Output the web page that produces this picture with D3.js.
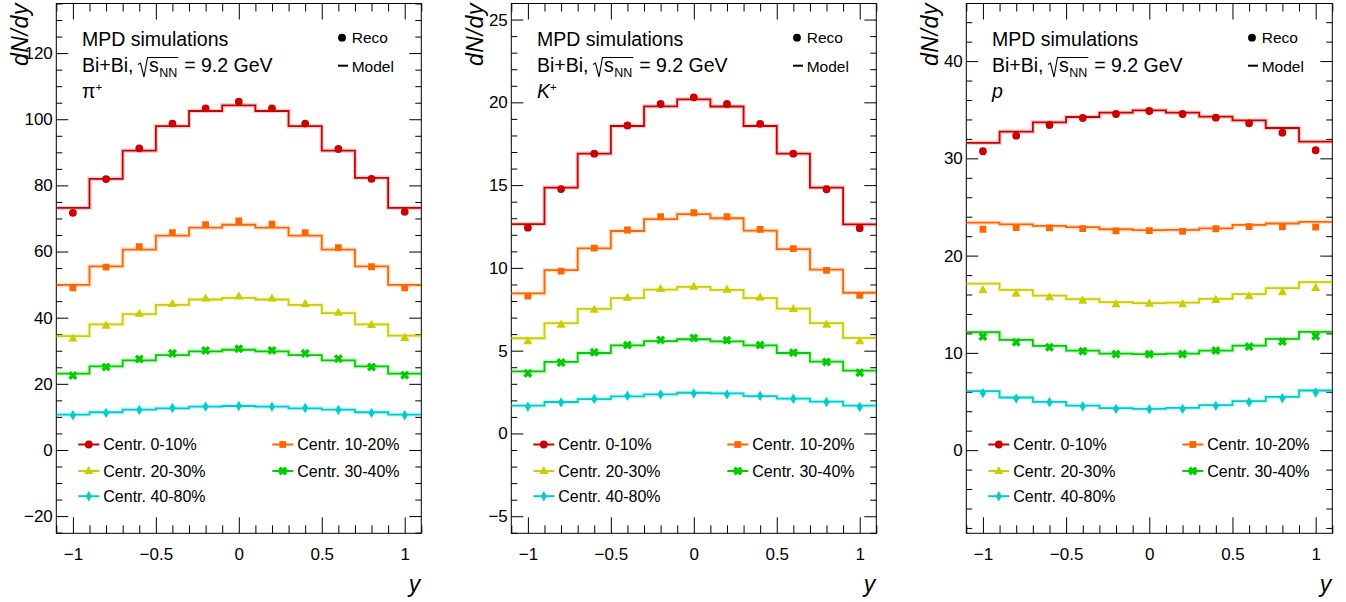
<!DOCTYPE html>
<html>
<head>
<meta charset="utf-8">
<script src="https://cdn.jsdelivr.net/npm/d3@7"></script>
<style>
  html, body { margin: 0; padding: 0; background: #fff; }
  svg { display: block; font-family: "Liberation Sans", Arial, Helvetica, sans-serif; }
</style>
</head>
<body>
<script>
// ---------------- DATA ----------------
const yCenters = [-1, -0.8, -0.6, -0.4, -0.2, 0, 0.2, 0.4, 0.6, 0.8, 1];
const binWidth = 0.2;
const centralityLabels = ["Centr. 0-10%", "Centr. 10-20%", "Centr. 20-30%", "Centr. 30-40%", "Centr. 40-80%"];
const seriesColors = ["#cc0000", "#ff6600", "#cccc00", "#00cc00", "#00cccc"];
const seriesMarkers = ["circle", "square", "triangle", "xcross", "diamond"];

// pi+
const piReco = [
  [71.7, 81.9, 91.2, 98.7, 103.3, 105.3, 103.3, 98.7, 91.0, 82.0, 72.0],
  [49.0, 55.3, 61.5, 65.7, 68.1, 69.3, 68.3, 65.7, 61.2, 55.4, 49.0],
  [33.7, 37.6, 41.2, 44.2, 45.8, 46.4, 45.8, 44.2, 41.5, 37.8, 33.9],
  [22.5, 25.1, 27.5, 29.2, 30.1, 30.6, 30.1, 29.2, 27.6, 25.1, 22.6],
  [10.5, 11.2, 12.1, 12.7, 13.1, 13.3, 13.1, 12.7, 12.1, 11.2, 10.5]
];
const piModel = [
  [73.2, 82.0, 90.5, 97.9, 102.5, 104.2, 102.5, 97.9, 90.5, 82.3, 73.2],
  [49.9, 55.5, 60.6, 64.8, 67.2, 68.1, 67.2, 64.8, 60.6, 55.5, 49.9],
  [34.4, 38.0, 41.1, 43.9, 45.5, 46.0, 45.5, 43.9, 41.4, 38.0, 34.6],
  [23.1, 25.3, 27.1, 28.7, 29.8, 30.3, 29.8, 28.7, 27.1, 25.3, 23.1],
  [10.7, 11.4, 12.2, 12.6, 13.1, 13.3, 13.1, 12.6, 12.2, 11.4, 10.7]
];
// K+
const kReco = [
  [12.43, 14.76, 16.9, 18.6, 19.9, 20.3, 19.9, 18.7, 16.9, 14.75, 12.4],
  [8.30, 9.81, 11.2, 12.29, 13.09, 13.33, 13.09, 12.33, 11.16, 9.85, 8.34],
  [5.57, 6.57, 7.48, 8.2, 8.73, 8.87, 8.69, 8.22, 7.52, 6.57, 5.57],
  [3.63, 4.28, 4.9, 5.34, 5.65, 5.77, 5.63, 5.34, 4.88, 4.32, 3.67],
  [1.62, 1.88, 2.08, 2.28, 2.36, 2.42, 2.36, 2.28, 2.1, 1.9, 1.6]
];
const kModel = [
  [12.65, 14.85, 16.9, 18.57, 19.76, 20.18, 19.75, 18.57, 16.9, 14.85, 12.63],
  [8.46, 9.87, 11.18, 12.23, 12.95, 13.25, 13.0, 12.25, 11.14, 9.9, 8.5],
  [5.75, 6.67, 7.52, 8.18, 8.69, 8.85, 8.67, 8.18, 7.54, 6.67, 5.77],
  [3.75, 4.32, 4.86, 5.32, 5.58, 5.69, 5.56, 5.32, 4.86, 4.34, 3.79],
  [1.68, 1.9, 2.08, 2.24, 2.36, 2.46, 2.42, 2.26, 2.1, 1.92, 1.68]
];
// p
const pReco = [
  [30.73, 32.33, 33.43, 34.15, 34.56, 34.87, 34.56, 34.18, 33.6, 32.64, 30.83],
  [22.71, 22.88, 22.85, 22.78, 22.54, 22.57, 22.5, 22.76, 22.98, 22.95, 22.92],
  [16.47, 16.1, 15.72, 15.38, 15.0, 15.07, 15.0, 15.45, 15.83, 16.24, 16.68],
  [11.68, 11.1, 10.58, 10.17, 9.87, 9.87, 9.87, 10.24, 10.65, 11.16, 11.72],
  [5.86, 5.3, 4.93, 4.52, 4.24, 4.21, 4.24, 4.55, 4.93, 5.34, 5.92]
];
const pModel = [
  [31.6, 32.74, 33.7, 34.25, 34.7, 34.94, 34.7, 34.28, 33.9, 33.12, 31.71],
  [23.39, 23.22, 23.05, 22.92, 22.71, 22.61, 22.64, 22.81, 23.15, 23.3, 23.46],
  [17.12, 16.47, 15.89, 15.52, 15.21, 15.11, 15.17, 15.55, 16.03, 16.65, 17.27],
  [12.13, 11.34, 10.72, 10.24, 9.93, 9.87, 9.93, 10.24, 10.75, 11.44, 12.16],
  [6.06, 5.41, 4.96, 4.58, 4.32, 4.24, 4.34, 4.62, 5.04, 5.48, 6.13]
];

// axes
const xDomain = [-1.1, 1.1];
const xMajorTicks = [-1, -0.5, 0, 0.5, 1];
const xTickLabels = ["\u22121", "\u22120.5", "0", "0.5", "1"];
const piYDomain = [-25.2, 135];
const piYTicks = [-20, 0, 20, 40, 60, 80, 100, 120];
const piYTickLabels = ["\u221220", "0", "20", "40", "60", "80", "100", "120"];
const kYDomain = [-6.03, 25.97];
const kYTicks = [-5, 0, 5, 10, 15, 20, 25];
const kYTickLabels = ["\u22125", "0", "5", "10", "15", "20", "25"];
const pYDomain = [-8.55, 45.92];
const pYTicks = [0, 10, 20, 30, 40];
const pYTickLabels = ["0", "10", "20", "30", "40"];

// ---------------- LAYOUT ----------------
const W = 1346, H = 602;
const frameTop = 3.5, frameBottom = 533.3;
const panels = [
  { left: 56.3, right: 421.3, reco: piReco, model: piModel, yDomain: piYDomain, yTicks: piYTicks, yLabels: piYTickLabels, yMinorStep: 5, particle: "pi" },
  { left: 511.3, right: 876.3, reco: kReco, model: kModel, yDomain: kYDomain, yTicks: kYTicks, yLabels: kYTickLabels, yMinorStep: 1, particle: "K" },
  { left: 966.3, right: 1332.3, reco: pReco, model: pModel, yDomain: pYDomain, yTicks: pYTicks, yLabels: pYTickLabels, yMinorStep: 2, particle: "p" }
];

const svg = d3.select("body").append("svg").attr("width", W).attr("height", H);

function markerPath(type) {
  if (type === "circle") return d3.symbol(d3.symbolCircle, Math.PI * 3.9 * 3.9)();
  if (type === "square") return d3.symbol(d3.symbolSquare, 6.8 * 6.8)();
  if (type === "triangle") return "M0,-5L4.6,3.1L-4.6,3.1Z";
  if (type === "diamond") return "M0,-5.2L3.1,0L0,5.2L-3.1,0Z";
  if (type === "xcross") {
    const w = 1.7, a = 4.7;
    const pts = [[-w,-a],[w,-a],[w,-w],[a,-w],[a,w],[w,w],[w,a],[-w,a],[-w,w],[-a,w],[-a,-w],[-w,-w]];
    const c = Math.cos(Math.PI / 4), s = Math.sin(Math.PI / 4);
    return "M" + pts.map(p => [(p[0] * c - p[1] * s).toFixed(2), (p[0] * s + p[1] * c).toFixed(2)].join(",")).join("L") + "Z";
  }
}

function range(a, b, step) {
  const out = [];
  const n = Math.round((b - a) / step);
  for (let i = 0; i <= n; i++) out.push(+(a + i * step).toFixed(6));
  return out;
}

panels.forEach((P) => {
  const g = svg.append("g");
  const x = d3.scaleLinear().domain(xDomain).range([P.left, P.right]);
  const y = d3.scaleLinear().domain(P.yDomain).range([frameBottom, frameTop]);

  const clipId = "clip" + P.particle;
  svg.append("clipPath").attr("id", clipId).append("rect")
    .attr("x", P.left).attr("y", frameTop).attr("width", P.right - P.left).attr("height", frameBottom - frameTop);

  // ---- axes ----
  const xMinor = range(-1.1, 1.1, 0.1).filter(v => !xMajorTicks.some(m => Math.abs(m - v) < 1e-6));
  const yMin = Math.ceil(P.yDomain[0] / P.yMinorStep) * P.yMinorStep;
  const yMinorAll = range(yMin, P.yDomain[1], P.yMinorStep).filter(v => v <= P.yDomain[1] && v >= P.yDomain[0]);
  const yMinor = yMinorAll.filter(v => !P.yTicks.some(m => Math.abs(m - v) < 1e-6));

  function styleAxis(sel) {
    sel.select(".domain").remove();
    sel.selectAll(".tick line").attr("stroke", "#000").attr("stroke-width", 1);
  }
  g.append("g").attr("transform", `translate(0,${frameBottom})`)
    .call(d3.axisBottom(x).tickValues(xMajorTicks).tickSizeInner(-16).tickSizeOuter(0).tickPadding(14.4)
      .tickFormat((d, i) => xTickLabels[i]))
    .call(styleAxis)
    .call(s => s.selectAll("text").attr("font-size", "17px").attr("fill", "#000").attr("font-family", null));
  g.append("g").attr("transform", `translate(0,${frameBottom})`)
    .call(d3.axisBottom(x).tickValues(xMinor).tickSizeInner(-8).tickSizeOuter(0).tickFormat(""))
    .call(styleAxis);
  g.append("g").attr("transform", `translate(0,${frameTop})`)
    .call(d3.axisTop(x).tickValues(xMajorTicks).tickSizeInner(-16).tickSizeOuter(0).tickFormat(""))
    .call(styleAxis);
  g.append("g").attr("transform", `translate(0,${frameTop})`)
    .call(d3.axisTop(x).tickValues(xMinor).tickSizeInner(-8).tickSizeOuter(0).tickFormat(""))
    .call(styleAxis);
  g.append("g").attr("transform", `translate(${P.left},0)`)
    .call(d3.axisLeft(y).tickValues(P.yTicks).tickSizeInner(-12).tickSizeOuter(0).tickPadding(3.5)
      .tickFormat((d, i) => P.yLabels[i]))
    .call(styleAxis)
    .call(s => s.selectAll("text").attr("font-size", "17px").attr("fill", "#000").attr("font-family", null));
  g.append("g").attr("transform", `translate(${P.left},0)`)
    .call(d3.axisLeft(y).tickValues(yMinor).tickSizeInner(-6).tickSizeOuter(0).tickFormat(""))
    .call(styleAxis);
  g.append("g").attr("transform", `translate(${P.right},0)`)
    .call(d3.axisRight(y).tickValues(P.yTicks).tickSizeInner(-12).tickSizeOuter(0).tickFormat(""))
    .call(styleAxis);
  g.append("g").attr("transform", `translate(${P.right},0)`)
    .call(d3.axisRight(y).tickValues(yMinor).tickSizeInner(-6).tickSizeOuter(0).tickFormat(""))
    .call(styleAxis);

  g.append("rect").attr("x", P.left).attr("y", frameTop)
    .attr("width", P.right - P.left).attr("height", frameBottom - frameTop)
    .attr("fill", "none").attr("stroke", "#000").attr("stroke-width", 1);

  // ---- series ----
  const plot = g.append("g").attr("clip-path", `url(#${clipId})`);
  const stepLine = d3.line().x(d => x(d[0])).y(d => y(d[1])).curve(d3.curveStepAfter);
  P.model.forEach((vals, si) => {
    const pts = vals.map((v, i) => [yCenters[i] - binWidth / 2, v]);
    pts.push([yCenters[yCenters.length - 1] + binWidth / 2, vals[vals.length - 1]]);
    plot.append("path").attr("d", stepLine(pts)).attr("fill", "none")
      .attr("stroke", seriesColors[si]).attr("stroke-opacity", 0.18).attr("stroke-width", 4.5);
    plot.append("path").attr("d", stepLine(pts)).attr("fill", "none")
      .attr("stroke", seriesColors[si]).attr("stroke-width", 1.8);
  });
  P.reco.forEach((vals, si) => {
    plot.selectAll(null).data(vals).enter().append("path")
      .attr("d", markerPath(seriesMarkers[si]))
      .attr("transform", (v, i) => `translate(${x(yCenters[i])},${y(v)})`)
      .attr("fill", seriesColors[si]);
  });

  // ---- axis titles ----
  g.append("text").attr("transform", `translate(${P.left - 28},${frameTop - 0.5}) rotate(-90)`)
    .attr("text-anchor", "end").attr("font-size", "23px").attr("font-style", "italic")
    .attr("letter-spacing", "0.6px").text("dN/dy");
  g.append("text").attr("x", P.right - 1).attr("y", 591.5).attr("text-anchor", "end")
    .attr("font-size", "23px").attr("font-style", "italic").text("y");

  // ---- header text ----
  const tx = P.left + 25.7;
  g.append("text").attr("x", tx).attr("y", 45.7).attr("font-size", "19.5px").text("MPD simulations");
  const t1 = g.append("text").attr("x", tx).attr("y", 72.3).attr("font-size", "19.5px").text("Bi+Bi,");
  const w1 = t1.node().getComputedTextLength();
  const rx = tx + w1 + 4.5;
  const sT = g.append("text").attr("x", rx + 11).attr("y", 72.3).attr("font-size", "19.5px").text("s");
  const ws = sT.node().getComputedTextLength();
  const nnT = g.append("text").attr("x", rx + 11 + ws + 0.5).attr("y", 76.5).attr("font-size", "12.5px").text("NN");
  const wnn = nnT.node().getComputedTextLength();
  const rEnd = rx + 11 + ws + 0.5 + wnn + 1;
  g.append("path")
    .attr("d", `M${rx},${64.5}L${rx + 2.5},${63}L${rx + 6},${77}L${rx + 9.5},${57.5}L${rEnd},${57.5}`)
    .attr("fill", "none").attr("stroke", "#000").attr("stroke-width", 1.1);
  g.append("text").attr("x", rEnd + 0.5).attr("y", 72.3).attr("font-size", "19.5px").attr("xml:space", "preserve")
    .text(" = 9.2 GeV");

  const pl = g.append("text").attr("x", tx).attr("y", 98).attr("font-size", "19.5px");
  if (P.particle === "pi") {
    pl.append("tspan").text("\u03c0");
    pl.append("tspan").attr("font-size", "11.5px").attr("dy", -7.5).text("+");
  } else if (P.particle === "K") {
    pl.append("tspan").attr("font-style", "italic").text("K");
    pl.append("tspan").attr("font-size", "11.5px").attr("dy", -7.5).text("+");
  } else {
    pl.append("tspan").attr("font-style", "italic").text("p");
  }

  // ---- Reco / Model legend ----
  const lx = P.left + 285.7;
  g.append("line").attr("x1", lx - 4).attr("x2", lx + 3).attr("y1", 37.7).attr("y2", 37.7)
    .attr("stroke", "#2a4fd8").attr("stroke-width", 1.5);
  g.append("path").attr("d", markerPath("circle")).attr("transform", `translate(${lx},37.7)`).attr("fill", "#000");
  g.append("text").attr("x", P.left + 295.4).attr("y", 43.3).attr("font-size", "15.5px").text("Reco");
  g.append("line").attr("x1", lx - 4).attr("x2", lx + 6).attr("y1", 65.7).attr("y2", 65.7)
    .attr("stroke", "#000").attr("stroke-width", 2);
  g.append("text").attr("x", P.left + 295.4).attr("y", 72.3).attr("font-size", "15.5px").text("Model");

  // ---- centrality legend ----
  const rowsY = [444.5, 471, 496.2];
  const colX = [22, 216];
  centralityLabels.forEach((lab, si) => {
    const cx = P.left + colX[si % 2];
    const cy = rowsY[Math.floor(si / 2)];
    g.append("line").attr("x1", cx).attr("x2", cx + 21).attr("y1", cy).attr("y2", cy)
      .attr("stroke", seriesColors[si]).attr("stroke-width", 2);
    g.append("path").attr("d", markerPath(seriesMarkers[si]))
      .attr("transform", `translate(${cx + 10.5},${cy})`).attr("fill", seriesColors[si]);
    g.append("text").attr("x", cx + 25).attr("y", cy + 5.7).attr("font-size", "16px").text(lab);
  });
});
</script>
</body>
</html>
